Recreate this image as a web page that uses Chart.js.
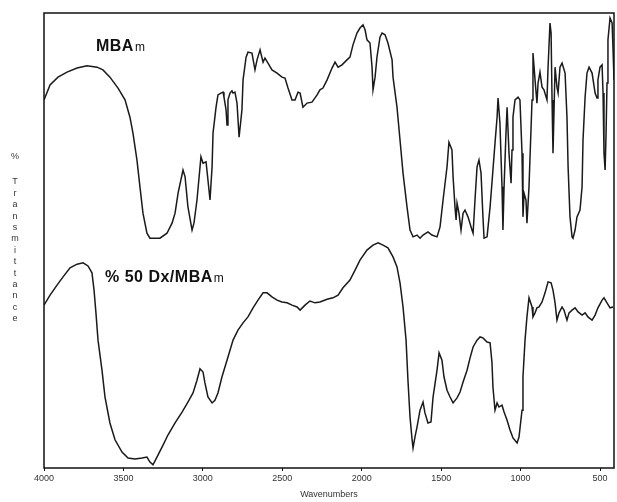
<!DOCTYPE html>
<html>
<head>
<meta charset="utf-8">
<script src="https://cdn.jsdelivr.net/npm/chart.js@4"></script>
<style>
html,body{margin:0;padding:0;background:#fff;}
canvas{display:block;}
</style>
</head>
<body>
<canvas id="c" width="617" height="502"></canvas>
<script>
// X tick labels (wavenumbers, cm-1)
const tickValues = [4000, 3500, 3000, 2500, 2000, 1500, 1000, 500];

// Upper spectrum: MBAm
const wnTop = [4000,3962,3912,3855,3792,3729,3666,3629,3585,3534,3490,3459,3440,3415,3396,3377,3352,3333,3270,3226,3194,3175,3156,3125,3112,3094,3068,3056,3037,3012,2999,2980,2968,2955,2942,2936,2917,2905,2886,2873,2867,2854,2848,2842,2829,2817,2810,2798,2785,2772,2754,2747,2728,2716,2691,2672,2659,2640,2621,2609,2590,2565,2533,2502,2483,2464,2439,2420,2401,2388,2370,2344,2313,2281,2263,2244,2218,2187,2168,2149,2124,2093,2074,2055,2030,2011,1992,1979,1967,1948,1935,1929,1916,1904,1885,1872,1853,1835,1809,1803,1778,1759,1740,1715,1696,1677,1652,1633,1614,1583,1558,1526,1507,1488,1463,1451,1432,1425,1413,1406,1400,1388,1375,1362,1350,1331,1306,1299,1287,1274,1262,1249,1237,1230,1211,1192,1174,1161,1148,1142,1130,1117,1111,1104,1092,1085,1073,1060,1054,1048,1035,1016,1004,991,985,978,966,960,947,928,922,909,897,890,878,865,853,834,827,815,808,802,796,783,771,764,752,739,720,708,701,689,676,670,657,645,626,613,607,594,582,569,550,531,519,513,500,487,481,475,468,462,456,450,437,424,418,412];
const tTop = [80.9,84.2,85.9,87.0,87.9,88.4,88.1,87.5,85.9,83.5,80.9,77.1,73.6,67.7,61.8,56.0,51.6,50.5,50.5,51.6,53.8,56.0,60.4,65.5,64.0,57.4,52.3,53.8,58.9,68.4,67.0,67.3,63.3,58.9,66.2,73.6,79.3,82.0,82.4,82.6,81.5,78.7,75.4,80.9,82.4,82.9,82.4,82.6,80.2,72.7,78.7,85.3,90.3,91.4,91.2,87.5,89.7,91.9,89.2,90.1,89.0,87.5,86.8,85.9,85.7,83.5,80.9,80.9,82.6,82.4,79.3,80.2,80.4,82.0,83.1,83.5,85.3,87.9,89.2,88.1,88.6,89.7,90.3,93.0,95.6,96.7,97.4,96.3,94.1,93.4,88.1,83.1,85.9,90.3,94.7,95.6,95.2,93.4,89.7,85.9,79.3,72.1,64.8,57.4,52.3,50.8,51.2,50.5,51.2,51.9,51.2,50.8,53.0,58.9,66.2,71.6,69.9,64.0,57.4,54.5,58.2,56.0,52.3,56.0,56.7,55.2,52.3,51.6,58.9,66.2,67.7,64.8,55.2,50.5,50.8,57.4,65.5,71.4,77.1,81.3,75.8,61.8,52.3,61.8,73.6,79.3,69.2,62.6,69.9,77.1,80.9,81.5,80.9,69.2,55.2,60.4,58.9,53.8,61.8,80.9,91.2,85.3,80.2,84.6,87.0,83.7,83.1,80.9,88.1,97.8,95.6,80.9,69.2,88.1,83.7,82.4,88.1,89.0,86.8,77.1,66.2,55.2,50.8,50.5,52.3,55.2,56.7,61.8,72.1,81.5,86.8,88.1,86.8,82.4,81.3,85.3,88.1,88.6,82.4,69.2,65.5,73.6,84.6,94.1,98.9,97.8,91.9,85.3];

// Lower spectrum: % 50 Dx/MBAm
const wnBottom = [4000,3962,3918,3880,3836,3792,3754,3723,3698,3685,3673,3660,3635,3616,3585,3553,3509,3471,3427,3383,3352,3333,3314,3289,3257,3219,3175,3131,3094,3062,3037,3018,2999,2987,2968,2942,2924,2905,2880,2848,2810,2779,2747,2716,2684,2653,2621,2596,2565,2533,2502,2470,2439,2407,2388,2357,2326,2294,2263,2218,2181,2149,2118,2074,2042,2011,1967,1929,1897,1866,1835,1803,1778,1759,1740,1721,1709,1696,1683,1677,1665,1652,1633,1614,1602,1583,1564,1551,1526,1513,1495,1482,1463,1444,1425,1400,1381,1362,1337,1318,1299,1274,1255,1237,1211,1192,1180,1174,1161,1148,1136,1117,1104,1085,1067,1048,1022,1010,991,985,972,960,947,928,922,909,897,884,865,846,827,808,796,783,771,758,739,727,708,695,676,657,638,613,594,576,550,531,513,487,475,456,437,418];
const tBottom = [35.8,38.0,40.2,42.0,44.0,44.8,45.1,44.4,42.9,39.1,34.1,28.1,21.5,15.6,9.9,6.2,3.5,2.2,2.0,2.2,2.4,1.3,0.7,2.4,4.6,7.3,9.9,12.3,14.5,16.5,19.3,21.8,21.1,18.7,15.6,14.3,14.9,16.5,20.0,23.7,28.1,30.3,31.9,33.2,35.2,36.9,38.5,38.5,37.6,36.9,36.5,36.3,35.8,35.4,34.7,35.8,36.7,36.3,36.5,37.1,37.4,38.0,39.6,41.3,43.5,45.7,47.9,49.0,49.5,49.0,48.4,46.4,44.2,40.7,35.4,28.1,19.3,11.2,6.2,4.4,6.8,9.0,12.7,14.5,12.1,9.9,10.1,15.6,21.5,25.3,23.7,20.0,17.1,15.6,14.3,15.4,16.7,18.9,21.5,24.2,26.6,28.1,28.8,28.6,27.7,27.5,23.1,17.8,12.7,14.3,13.4,13.8,12.3,10.5,8.4,6.6,5.5,6.8,12.7,20.0,28.1,33.2,37.4,35.4,33.2,34.1,35.2,35.4,36.5,38.5,40.9,40.7,39.1,36.3,32.5,34.1,35.4,34.7,32.5,34.1,34.7,35.2,34.3,33.6,34.1,33.2,32.5,33.6,35.2,36.9,37.4,36.3,35.2,35.4];

const seriesNames = ['MBAm', '% 50 Dx/MBAm'];
const yAxisTitle = '% Transmittance';
const xAxisTitle = 'Wavenumbers';

const toPoints = (xs, ys) => xs.map((x, i) => ({x: x, y: ys[i]}));

const FONT = "'Liberation Sans', Arial, sans-serif";

const decor = {
  id: 'decor',
  afterDraw(chart) {
    const ctx = chart.ctx;
    const a = chart.chartArea;
    const xs = chart.scales.x, ys = chart.scales.y;
    ctx.save();
    // frame
    ctx.strokeStyle = '#111';
    ctx.lineWidth = 1.5;
    ctx.strokeRect(a.left, a.top, a.right - a.left, a.bottom - a.top);
    // series labels
    ctx.fillStyle = '#111';
    ctx.textBaseline = 'middle';
    const drawLabel = (text, wn, t, size) => {
      const main = text.slice(0, -1), tail = text.slice(-1);
      let px = xs.getPixelForValue(wn), py = ys.getPixelForValue(t);
      ctx.font = 'bold ' + size + 'px ' + FONT;
      ctx.textAlign = 'left';
      try { ctx.letterSpacing = '0.5px'; } catch (e) {}
      ctx.fillText(main, px, py);
      const w = ctx.measureText(main).width;
      try { ctx.letterSpacing = '0px'; } catch (e) {}
      ctx.font = (size - 4) + 'px ' + FONT;
      ctx.fillText(tail, px + w + 1, py + 1);
    };
    drawLabel(seriesNames[0], 3673, 92.7, 16);
    drawLabel(seriesNames[1], 3616, 41.8, 16);
    // y axis title, stacked letters
    ctx.font = '9px ' + FONT;
    ctx.fillStyle = '#333';
    ctx.textAlign = 'center';
    const parts = yAxisTitle.split(' ');
    ctx.fillText(parts[0], 15, 157);
    const word = parts[1];
    for (let i = 0; i < word.length; i++) {
      ctx.fillText(word[i], 15, 182 + i * 11.4);
    }
    ctx.restore();
  }
};

new Chart(document.getElementById('c'), {
  type: 'line',
  data: {
    datasets: [
      { label: seriesNames[0], data: toPoints(wnTop, tTop), borderColor: '#1a1a1a', borderWidth: 1.5, pointRadius: 0, tension: 0, fill: false },
      { label: seriesNames[1], data: toPoints(wnBottom, tBottom), borderColor: '#1a1a1a', borderWidth: 1.5, pointRadius: 0, tension: 0, fill: false }
    ]
  },
  options: {
    responsive: false,
    devicePixelRatio: 1,
    animation: false,
    layout: { padding: { left: 44, right: 3, top: 13, bottom: 0 } },
    plugins: { legend: { display: false }, tooltip: { enabled: false } },
    scales: {
      x: {
        type: 'linear',
        reverse: true,
        min: 412,
        max: 4000,
        afterBuildTicks: (s) => { s.ticks = tickValues.map(v => ({ value: v })); },
        afterFit: (s) => { s.height = 34; },
        grid: { drawOnChartArea: false, tickLength: 3, color: '#111' },
        border: { display: false },
        ticks: { autoSkip: false, maxRotation: 0, padding: 2, color: '#333', font: { size: 9, family: FONT }, callback: (v) => String(v) },
        title: { display: true, text: xAxisTitle, color: '#333', font: { size: 9, family: FONT }, padding: { top: 0, bottom: 2 } }
      },
      y: { display: false, min: 0, max: 100 }
    }
  },
  plugins: [decor]
});
</script>
</body>
</html>
